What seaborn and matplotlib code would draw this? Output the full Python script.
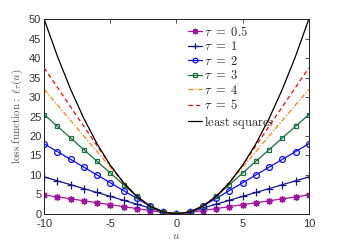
import matplotlib
matplotlib.use("Agg")
import matplotlib.pyplot as plt
import seaborn as sns
import pandas as pd

u = [-10, -9, -8, -7, -6, -5, -4, -3, -2, -1, 0, 1, 2, 3, 4, 5, 6, 7, 8, 9, 10]
tau_05 = [4.875, 4.375, 3.875, 3.375, 2.875, 2.375, 1.875, 1.375, 0.875, 0.375, 0,
          0.375, 0.875, 1.375, 1.875, 2.375, 2.875, 3.375, 3.875, 4.375, 4.875]
tau_1 = [9.5, 8.5, 7.5, 6.5, 5.5, 4.5, 3.5, 2.5, 1.5, 0.5, 0,
         0.5, 1.5, 2.5, 3.5, 4.5, 5.5, 6.5, 7.5, 8.5, 9.5]
tau_2 = [18, 16, 14, 12, 10, 8, 6, 4, 2, 0.5, 0,
         0.5, 2, 4, 6, 8, 10, 12, 14, 16, 18]
tau_3 = [25.5, 22.5, 19.5, 16.5, 13.5, 10.5, 7.5, 4.5, 2, 0.5, 0,
         0.5, 2, 4.5, 7.5, 10.5, 13.5, 16.5, 19.5, 22.5, 25.5]
tau_4 = [32, 28, 24, 20, 16, 12, 8, 4.5, 2, 0.5, 0,
         0.5, 2, 4.5, 8, 12, 16, 20, 24, 28, 32]
tau_5 = [37.5, 32.5, 27.5, 22.5, 17.5, 12.5, 8, 4.5, 2, 0.5, 0,
         0.5, 2, 4.5, 8, 12.5, 17.5, 22.5, 27.5, 32.5, 37.5]
least_sq = [50, 40.5, 32, 24.5, 18, 12.5, 8, 4.5, 2, 0.5, 0,
            0.5, 2, 4.5, 8, 12.5, 18, 24.5, 32, 40.5, 50]

labels = [r"$\tau\ =\ 0.5$", r"$\tau\ =\ 1$", r"$\tau\ =\ 2$", r"$\tau\ =\ 3$",
          r"$\tau\ =\ 4$", r"$\tau\ =\ 5$", r"$\mathrm{least\ squares}$"]
series = [tau_05, tau_1, tau_2, tau_3, tau_4, tau_5, least_sq]
colors = ["#a0179e", "#14148c", "#0a0aff", "#17703a", "#ff7f0e", "#ff0000", "#000000"]
styles = [
    dict(marker=(8, 2, 0), markersize=5, linestyle="-", markeredgewidth=0.9),
    dict(marker="+", markersize=6, linestyle="-", markeredgewidth=0.9),
    dict(marker="o", markersize=4.2, linestyle="-", markerfacecolor="none", markeredgewidth=0.9),
    dict(marker="s", markersize=3.4, linestyle="-", markerfacecolor="none", markeredgewidth=0.9),
    dict(marker="None", linestyle=(0, (4, 1.5, 1, 1.5))),
    dict(marker="None", linestyle=(0, (3.5, 2.5))),
    dict(marker="None", linestyle="-"),
]

sns.set_style("white")
plt.rcParams["mathtext.fontset"] = "cm"
plt.rcParams["font.family"] = ["Liberation Sans", "DejaVu Sans"]
plt.rcParams["axes.unicode_minus"] = False

fig = plt.figure(figsize=(3.42, 2.42), dpi=100)
ax = fig.add_axes([0.129, 0.116, 0.774, 0.805])

handles = []
for lab, ys, c, st in zip(labels, series, colors, styles):
    df = pd.DataFrame({"u": u, "v": ys})
    sns.lineplot(data=df, x="u", y="v", ax=ax, color=c, linewidth=0.9, legend=False)
    ln = ax.lines[-1]
    ln.set_color(c)
    ln.set_linestyle(st["linestyle"])
    ln.set_marker(st["marker"])
    if "markersize" in st:
        ln.set_markersize(st["markersize"])
        ln.set_markeredgewidth(st["markeredgewidth"])
        ln.set_markeredgecolor(c)
        ln.set_markerfacecolor(st.get("markerfacecolor", c))
    ln.set_label(lab)
    handles.append(ln)

ax.set_xlim(-10, 10)
ax.set_ylim(0, 50)
ax.set_xticks([-10, -5, 0, 5, 10])
ax.set_yticks(list(range(0, 51, 5)))
ax.tick_params(direction="in", length=3, width=0.6, labelsize=8, colors="#333333",
               top=True, right=True)
ax.tick_params(axis="x", pad=4)
ax.tick_params(axis="y", pad=2)
for s in ax.spines.values():
    s.set_color("#222222")
    s.set_linewidth(0.7)
ax.set_xlabel(r"$u$", fontsize=8, color="#555555", labelpad=1)
ax.set_ylabel(r"$\mathrm{loss\ function:}\ \ell_\tau(u)$", fontsize=8, color="#555555",
              labelpad=3)
leg = ax.legend(handles=handles, loc="upper left", bbox_to_anchor=(0.515, 1.01), frameon=False,
                fontsize=9, handlelength=1.1, handletextpad=0.2, labelspacing=0.12,
                borderaxespad=0.2, markerscale=0.8)
fig.savefig("out.png", dpi=100)
